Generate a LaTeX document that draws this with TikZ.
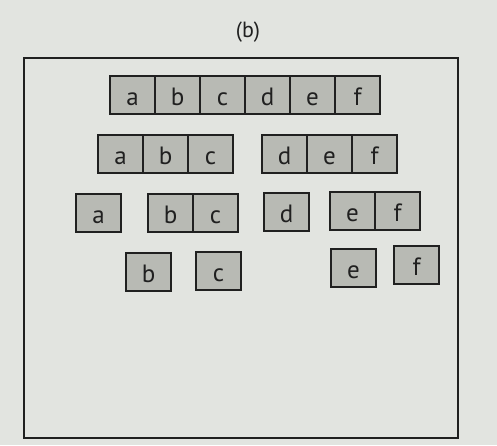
\documentclass[tikz,border=0pt]{standalone}
\usepackage{fontspec}
\setmainfont{PT Sans}
\usetikzlibrary{positioning}
\definecolor{paper}{RGB}{226,228,224}
\definecolor{cellgray}{RGB}{184,186,180}
\definecolor{ink}{RGB}{32,32,32}

\begin{document}
\begin{tikzpicture}[x=1pt,y=-1pt,line join=miter,
                    font=\fontsize{25}{29}\selectfont]
  \tikzstyle{cellbox}=[rectangle,draw=ink,fill=cellgray,text=ink,line width=2.2pt,
                       minimum width=45pt,minimum height=38pt,inner sep=0pt,
                       outer sep=0pt,text height=20pt,text depth=0pt]

  \fill[paper] (0,0) rectangle (497,445);
  \useasboundingbox (0,0) rectangle (497,445);

  \node[text=ink,font=\fontsize{22}{26}\selectfont] (title) at (248,32) {(b)};
  \draw[ink,line width=1.5pt] (24,58) rectangle (458,438);

  % row 1
  \node[cellbox,anchor=west] (Aa) at (110,95) {a};
  \node[cellbox] (Ab) [right=0pt of Aa] {b};
  \node[cellbox] (Ac) [right=0pt of Ab] {c};
  \node[cellbox] (Ad) [right=0pt of Ac] {d};
  \node[cellbox] (Ae) [right=0pt of Ad] {e};
  \node[cellbox] (Af) [right=0pt of Ae] {f};

  % row 2
  \node[cellbox,anchor=west] (Ba) at (98,154) {a};
  \node[cellbox] (Bb) [right=0pt of Ba] {b};
  \node[cellbox] (Bc) [right=0pt of Bb] {c};
  \node[cellbox,anchor=west] (Bd) at (262,154) {d};
  \node[cellbox] (Be) [right=0pt of Bd] {e};
  \node[cellbox] (Bf) [right=0pt of Be] {f};

  % row 3
  \node[cellbox,anchor=west] (Ca) at (76,213) {a};
  \node[cellbox,anchor=west] (Cb) at (148,213) {b};
  \node[cellbox] (Cc) [right=0pt of Cb] {c};
  \node[cellbox,anchor=west] (Cd) at (264,212) {d};
  \node[cellbox,anchor=west] (Ce) at (330,211) {e};
  \node[cellbox] (Cf) [right=0pt of Ce] {f};

  % row 4
  \node[cellbox,anchor=west] (Db) at (126,272) {b};
  \node[cellbox,anchor=west] (Dc) at (196,271) {c};
  \node[cellbox,anchor=west] (De) at (331,268) {e};
  \node[cellbox,anchor=west] (Df) at (394,265) {f};
\end{tikzpicture}
\end{document}
